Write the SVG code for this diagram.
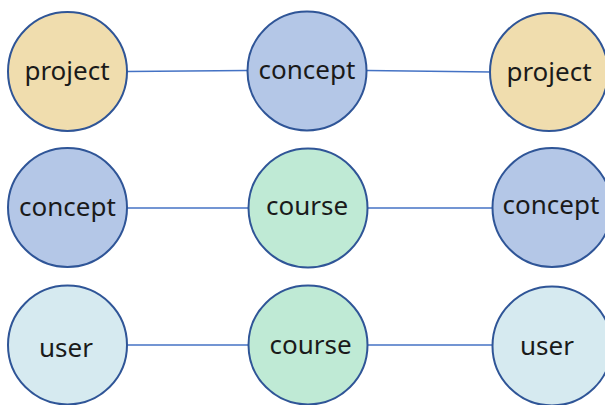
<svg xmlns="http://www.w3.org/2000/svg" width="605" height="405" viewBox="0 0 605 405">
  <style>
    .node { stroke: #2F5597; stroke-width: 2; }
    .project { fill: #F0DDAE; }
    .concept { fill: #B4C7E7; }
    .course { fill: #BFEAD5; }
    .user { fill: #D6EAF0; }
    .label { font-family: "Noto Sans", "Open Sans", sans-serif; font-size: 26px; fill: #1a1a1a; text-anchor: middle; }
    .edge { stroke: #4472C4; stroke-width: 1.5; fill: none; }
  </style>
  <rect width="605" height="405" fill="#ffffff"/>

  <!-- connectors -->
  <g id="edges">
    <line class="edge" x1="127" y1="71.5" x2="247" y2="70.5"/>
    <line class="edge" x1="367" y1="70.5" x2="491" y2="72"/>
    <line class="edge" x1="127" y1="208" x2="249" y2="208"/>
    <line class="edge" x1="367" y1="208" x2="493" y2="208"/>
    <line class="edge" x1="127" y1="345" x2="249" y2="345"/>
    <line class="edge" x1="367" y1="345" x2="493" y2="345"/>
  </g>

  <!-- row 1 -->
  <g id="project-1">
    <circle class="node project" cx="67.5" cy="71.5" r="59.5"/>
    <text class="label" x="67" y="80">project</text>
  </g>
  <g id="concept-1">
    <circle class="node concept" cx="307" cy="71" r="59.5"/>
    <text class="label" x="307" y="79">concept</text>
  </g>
  <g id="project-2">
    <circle class="node project" cx="549" cy="72" r="59"/>
    <text class="label" x="549" y="81">project</text>
  </g>

  <!-- row 2 -->
  <g id="concept-2">
    <circle class="node concept" cx="67.5" cy="207.5" r="59.5"/>
    <text class="label" x="67.5" y="216">concept</text>
  </g>
  <g id="course-1">
    <circle class="node course" cx="308" cy="208" r="59.5"/>
    <text class="label" x="307" y="215">course</text>
  </g>
  <g id="concept-3">
    <circle class="node concept" cx="552" cy="207.5" r="59.5"/>
    <text class="label" x="551" y="214">concept</text>
  </g>

  <!-- row 3 -->
  <g id="user-1">
    <circle class="node user" cx="67.5" cy="345" r="59.5"/>
    <text class="label" x="66" y="357">user</text>
  </g>
  <g id="course-2">
    <circle class="node course" cx="308" cy="345" r="59.5"/>
    <text class="label" x="310.5" y="354">course</text>
  </g>
  <g id="user-2">
    <circle class="node user" cx="552" cy="346" r="59.5"/>
    <text class="label" x="547" y="355">user</text>
  </g>
</svg>
